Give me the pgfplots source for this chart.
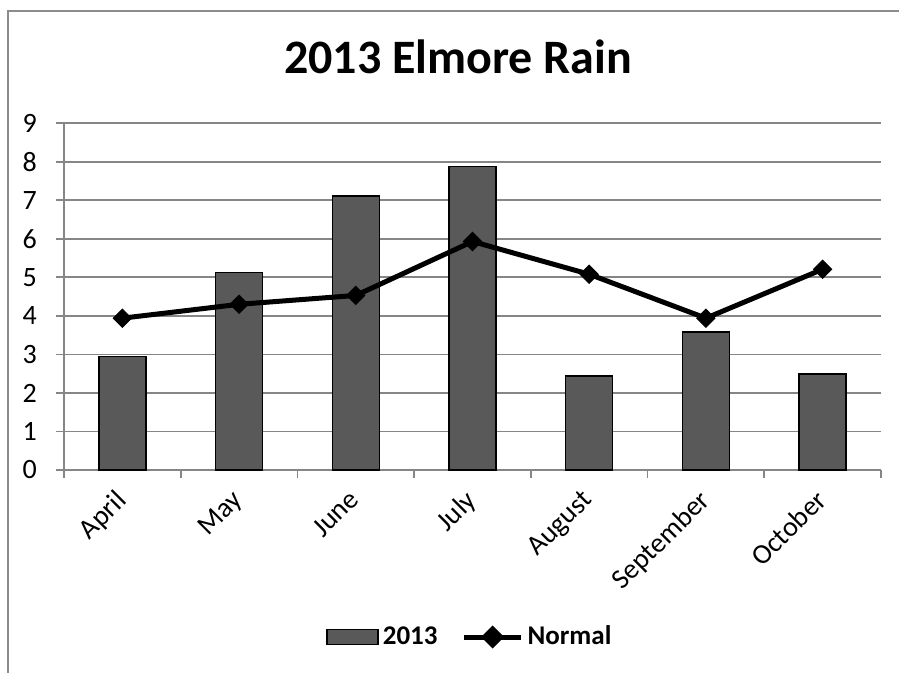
\documentclass[border=0pt]{standalone}
\usepackage{fontspec}
\setmainfont{Carlito}
\usepackage{pgfplots}
\pgfplotsset{compat=1.18}
\definecolor{gridgray}{RGB}{134,134,134}
\definecolor{bargray}{RGB}{89,89,89}
\definecolor{framegray}{RGB}{140,140,140}
\begin{document}
\begin{tikzpicture}
\useasboundingbox (-32pt,-101.5pt) rectangle (417.5pt,235pt);
\fill[white] (-32pt,-101.5pt) rectangle (417.5pt,235pt);
\draw[framegray, line width=1.1pt] (-28pt,-101.5pt) -- (-28pt,229.5pt) -- (417.5pt,229.5pt);
\begin{axis}[
  at={(0,0)}, anchor=south west,
  width=408.5pt, height=173.4pt, scale only axis,
  xmin=-0.5, xmax=6.5, ymin=0, ymax=9,
  ytick={0,1,...,9},
  xtick={-0.5,0.5,...,6.5},
  xticklabels={},
  extra x ticks={0,1,2,3,4,5,6},
  extra x tick labels={April,May,June,July,August,September,October},
  extra x tick style={major tick length=0pt, grid=none,
     xticklabel style={rotate=45, anchor=north east, xshift=-6pt, yshift=0pt}},
  axis x line*=bottom, axis y line*=left,
  axis line style={gridgray, line width=0.9pt},
  tick style={gridgray, line width=0.9pt},
  tick align=outside, major tick length=4pt,
  ymajorgrids, grid style={gridgray, line width=0.9pt},
  /pgf/number format/assume math mode=true,
  ticklabel style={font=\fontsize{14}{16}\selectfont, text=black},
  yticklabel style={xshift=-6pt},
  legend columns=2,
  legend style={at={(0.498,-0.4816)}, anchor=center, draw=none,
     font=\fontsize{13.5}{16}\selectfont\bfseries, /tikz/every even column/.append style={column sep=10pt},
     cells={anchor=west}, inner sep=0pt},
  clip=false,
]
\addplot[ybar, bar width=23.5pt, fill=bargray, draw=black, line width=0.75pt,
  legend image code/.code={\draw[fill=bargray, draw=black, line width=0.75pt] (0pt,-3.75pt) rectangle (25.5pt,3.75pt);}]
  coordinates {(0,2.94) (1,5.12) (2,7.11) (3,7.88) (4,2.44) (5,3.58) (6,2.49)};
\addlegendentry{2013}
\addplot[black, line width=2.5pt, mark=square*, mark size=3.2pt, mark options={rotate=45, solid, line width=0.5pt},
  legend image code/.code={\draw[black, line width=2.5pt] (0pt,0pt) -- (28.5pt,0pt);
     \fill[black] (14.25pt,4pt) -- (18.25pt,0pt) -- (14.25pt,-4pt) -- (10.25pt,0pt) -- cycle;}]
  coordinates {(0,3.94) (1,4.30) (2,4.53) (3,5.93) (4,5.08) (5,3.94) (6,5.21)};
\addlegendentry{Normal}
\node[font=\fontsize{24}{28}\selectfont\bfseries] at (axis description cs:0.4823,1.1913) {2013 Elmore Rain};
\end{axis}
\end{tikzpicture}
\end{document}
